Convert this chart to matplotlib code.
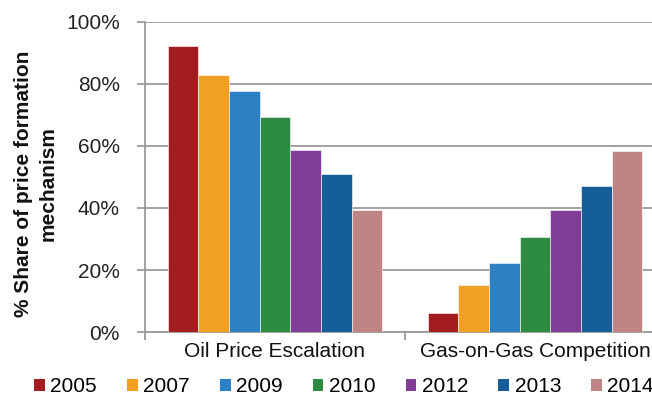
import matplotlib
matplotlib.use('Agg')
import numpy as np
from matplotlib import pyplot as plt
from matplotlib.patches import Patch

plt.rcParams['font.family'] = ['Liberation Sans', 'DejaVu Sans']

categories = ['Oil Price Escalation', 'Gas-on-Gas Competition']
years = ['2005', '2007', '2009', '2010', '2012', '2013', '2014']
colors = ['#A31C20', '#F2A024', '#2C80C4', '#2E8B42', '#823E96', '#155E9A', '#BE8584']

# share (%) of each price formation mechanism, per year
oil_indexed = [92.4, 82.9, 77.6, 69.3, 58.7, 51.0, 39.3]
gas_on_gas = [6.0, 15.2, 22.2, 30.5, 39.4, 47.0, 58.5]

yticks = [0, 20, 40, 60, 80, 100]

FS = 15
fig = plt.figure(figsize=(6.52, 3.96), dpi=100)
ax = fig.add_axes([145 / 652, 64 / 396, 520 / 652, 310 / 396])

x = np.arange(len(categories))
width = 0.1177
for i, yr in enumerate(years):
    vals = [oil_indexed[i], gas_on_gas[i]]
    ax.bar(x + (i - 3) * width, vals, width, color=colors[i],
           edgecolor='white', linewidth=0.4, zorder=3, label=yr)

ax.set_xlim(-0.5, 1.5)
ax.set_ylim(0, 100)
ax.set_yticks(yticks)
ax.set_yticklabels(['%d%%' % v for v in yticks], fontsize=FS, color='#222222')
ax.yaxis.grid(True, color='#9A9A9A', linewidth=1.3, zorder=0)

ax.set_xticks(x)
ax.set_xticklabels(categories, fontsize=FS, color='#111111')
ax.set_xticks([-0.5, 0.5, 1.5], minor=True)
ax.tick_params(axis='x', which='major', length=0, pad=7)
ax.tick_params(axis='x', which='minor', length=6, width=1.3, color='#9A9A9A')
ax.tick_params(axis='y', length=6, width=1.3, color='#9A9A9A', pad=12)

for side in ['top', 'right']:
    ax.spines[side].set_visible(False)
for side in ['left', 'bottom']:
    ax.spines[side].set_color('#9A9A9A')
    ax.spines[side].set_linewidth(1.3)

fig.text(36 / 652, 1 - 184 / 396, '% Share of price formation\nmechanism',
         rotation=90, ha='center', va='center', multialignment='center',
         fontsize=FS, fontweight='bold', color='#111111', linespacing=1.35)

handles = [Patch(facecolor=c, edgecolor='none') for c in colors]
fig.legend(handles, years, loc='center left', bbox_to_anchor=(34 / 652, 1 - 387 / 396),
           ncol=7, frameon=False, fontsize=FS, handlelength=0.52,
           handleheight=0.52, handletextpad=0.27, columnspacing=1.43,
           borderpad=0, borderaxespad=0)

fig.savefig('out.png', dpi=100)
